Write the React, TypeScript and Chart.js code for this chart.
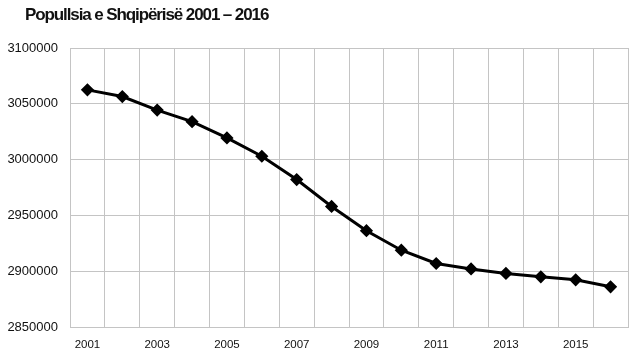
import React, { useEffect, useRef } from "react";
import { Chart, registerables } from "chart.js";

Chart.register(...registerables);

const titleText = "Popullsia e Shqipërisë 2001 – 2016";
const years = ["2001","2002","2003","2004","2005","2006","2007","2008","2009","2010","2011","2012","2013","2014","2015","2016"];
const population = [3062500, 3056500, 3044400, 3034000, 3019400, 3003000, 2982100, 2958000, 2936300, 2918800, 2906900, 2902000, 2898000, 2895000, 2892300, 2886000];
const yMin = 2850000;
const yMax = 3100000;
const yStep = 50000;

const titlePlugin = {
  id: "leftTitle",
  afterDraw(chart: any) {
    const ctx = chart.ctx;
    ctx.save();
    ctx.font = "bold 17px 'Liberation Sans', Arial, sans-serif";
    (ctx as any).letterSpacing = "-1.1px";
    ctx.fillStyle = "#111";
    ctx.textBaseline = "alphabetic";
    ctx.textAlign = "left";
    ctx.fillText(titleText, 25, 19.5);
    ctx.restore();
  },
};

export default function App() {
  const ref = useRef<HTMLCanvasElement>(null);
  useEffect(() => {
    if (!ref.current) return;
    const chart = new Chart(ref.current, {
      type: "line",
      data: {
        labels: years,
        datasets: [
          {
            data: population,
            borderColor: "#000",
            backgroundColor: "#000",
            borderWidth: 3,
            pointStyle: "rectRot",
            pointRadius: 4.5,
            pointBackgroundColor: "#000",
            pointBorderColor: "#000",
            tension: 0,
          },
        ],
      },
      options: {
        animation: false,
        responsive: false,
        maintainAspectRatio: false,
        layout: { padding: { top: 48, right: 12, left: 0, bottom: 0 } },
        plugins: { legend: { display: false }, title: { display: false }, tooltip: { enabled: false } },
        scales: {
          x: {
            offset: true,
            grid: { offset: true, color: "#c4c4c4", lineWidth: 1, drawTicks: false },
            border: { color: "#c4c4c4" },
            ticks: {
              autoSkip: false,
              maxRotation: 0,
              padding: 11,
              color: "#111",
              font: { family: "'Liberation Sans', Arial, sans-serif", size: 11.5 },
              callback: (_v: any, i: number) => (i % 2 === 0 ? years[i] : ""),
            },
            afterFit: (s: any) => { s.height = 30; },
          },
          y: {
            min: yMin,
            max: yMax,
            grid: { color: "#c4c4c4", lineWidth: 1, drawTicks: false },
            border: { color: "#c4c4c4" },
            ticks: {
              stepSize: yStep,
              padding: 12,
              color: "#111",
              font: { family: "'Liberation Sans', Arial, sans-serif", size: 13 },
              callback: (v: any) => String(v),
            },
            afterFit: (s: any) => { s.width = 70; },
          },
        },
      },
      plugins: [titlePlugin],
    });
    return () => chart.destroy();
  }, []);
  return (
    <div style={{ position: "fixed", left: 0, top: 0, width: 640, height: 357, background: "#fff" }}>
      <canvas ref={ref} width={640} height={357} style={{ width: 640, height: 357 }} />
    </div>
  );
}
